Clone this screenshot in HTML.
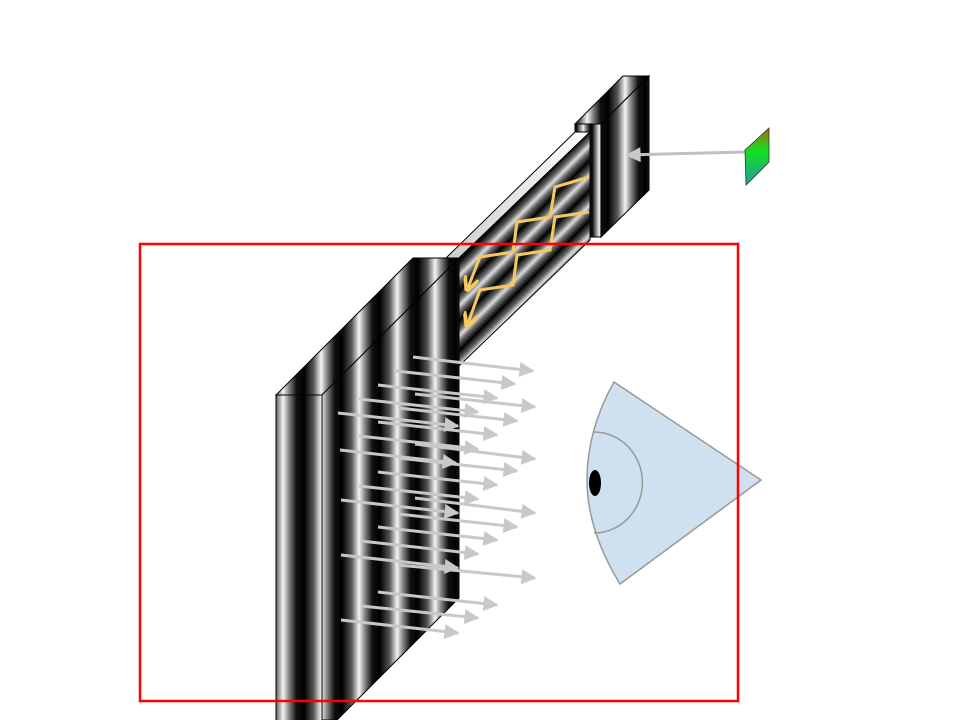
<!DOCTYPE html>
<html><head><meta charset="utf-8"><style>html,body{margin:0;padding:0;background:#fff}svg{display:block}</style></head>
<body>
<svg width="960" height="720" viewBox="0 0 960 720" xmlns="http://www.w3.org/2000/svg">
<defs>
<linearGradient id="vs" gradientUnits="userSpaceOnUse" x1="0" y1="0" x2="38" y2="0" spreadMethod="repeat">
<stop offset="0" stop-color="#000"/><stop offset="0.25" stop-color="#555"/><stop offset="0.45" stop-color="#f4f4f4"/><stop offset="0.6" stop-color="#888"/><stop offset="0.8" stop-color="#111"/><stop offset="1" stop-color="#000"/>
</linearGradient>
<linearGradient id="vs2" gradientUnits="userSpaceOnUse" x1="0" y1="0" x2="16" y2="0" spreadMethod="repeat">
<stop offset="0" stop-color="#000"/><stop offset="0.45" stop-color="#eee"/><stop offset="0.7" stop-color="#555"/><stop offset="1" stop-color="#000"/>
</linearGradient>
<linearGradient id="ds" gradientUnits="userSpaceOnUse" x1="0" y1="0" x2="15" y2="15" spreadMethod="repeat">
<stop offset="0" stop-color="#000"/><stop offset="0.3" stop-color="#666"/><stop offset="0.5" stop-color="#ddd"/><stop offset="0.7" stop-color="#666"/><stop offset="1" stop-color="#000"/>
</linearGradient>
<linearGradient id="gr" x1="0" y1="0" x2="0" y2="1">
<stop offset="0" stop-color="#a86a10"/><stop offset="0.4" stop-color="#10e020"/><stop offset="1" stop-color="#20a0a0"/>
</linearGradient>
<linearGradient id="lt" x1="0" y1="0" x2="1" y2="0"><stop offset="0" stop-color="#ccc"/><stop offset="1" stop-color="#fff"/></linearGradient>
<marker id="ah" viewBox="0 0 10 10" refX="9" refY="5" markerWidth="7" markerHeight="5" markerUnits="strokeWidth" orient="auto"><path d="M0,0L10,5L0,10z" fill="#c8c8c8"/></marker>
<marker id="ay" viewBox="0 0 10 10" refX="9" refY="5" markerWidth="5" markerHeight="5" markerUnits="strokeWidth" orient="auto"><path d="M0,0L10,5L0,10" fill="none" stroke="#f5c860" stroke-width="2.5"/></marker>
</defs>

<rect x="575" y="124" width="15" height="113" fill="url(#vs2)" stroke="#000"/>
<polygon points="575,124 623,76 649,76 601,124" fill="url(#vs)" stroke="#000"/>
<rect x="590" y="124" width="11" height="113" fill="url(#vs2)" stroke="#000"/>
<polygon points="601,124 649,76 649,190 601,237" fill="url(#vs)" stroke="#000"/>

<polygon points="446,258 575,132 590,132 459,258" fill="url(#lt)" stroke="#000"/>
<polygon points="459,258 590,132 590,240 459,366" fill="url(#ds)" stroke="#000"/>

<polyline points="589,177 555,187 550,217 517,222 513,252 480,257 467,290" fill="none" stroke="#f5c860" stroke-width="3" marker-end="url(#ay)"/>
<polyline points="589,212 555,217 550,250 517,255 513,285 480,290 467,326" fill="none" stroke="#f5c860" stroke-width="3" marker-end="url(#ay)"/>

<polygon points="276,395 322,395 459,258 413,258" fill="url(#vs)" stroke="#000"/>
<rect x="276" y="395" width="46" height="330" fill="url(#vs)" stroke="#000"/>
<polygon points="322,395 459,258 459,598 337,720 322,720" fill="url(#vs)" stroke="#000"/>

<g stroke="#c8c8c8" stroke-width="3" fill="none" marker-end="url(#ah)">
<line x1="413" y1="357" x2="533" y2="371"/>
<line x1="396" y1="371" x2="515" y2="384"/>
<line x1="378" y1="385" x2="497" y2="398"/>
<line x1="415" y1="394" x2="535" y2="407"/>
<line x1="359" y1="399" x2="478" y2="412"/>
<line x1="338" y1="413" x2="458" y2="426"/>
<line x1="398" y1="408" x2="517" y2="421"/>
<line x1="378" y1="422" x2="497" y2="435"/>
<line x1="359" y1="436" x2="478" y2="449"/>
<line x1="340" y1="450" x2="456" y2="463"/>
<line x1="415" y1="444" x2="535" y2="459"/>
<line x1="398" y1="458" x2="517" y2="471"/>
<line x1="378" y1="472" x2="497" y2="485"/>
<line x1="359" y1="486" x2="478" y2="499"/>
<line x1="341" y1="500" x2="458" y2="513"/>
<line x1="415" y1="498" x2="535" y2="513"/>
<line x1="398" y1="514" x2="517" y2="527"/>
<line x1="378" y1="527" x2="497" y2="540"/>
<line x1="361" y1="541" x2="478" y2="554"/>
<line x1="341" y1="555" x2="458" y2="568"/>
<line x1="398" y1="565" x2="535" y2="578"/>
<line x1="378" y1="592" x2="497" y2="605"/>
<line x1="361" y1="606" x2="478" y2="618"/>
<line x1="341" y1="620" x2="458" y2="633"/>
</g>

<line x1="745" y1="152" x2="627" y2="155" stroke="#c0c0c0" stroke-width="3" marker-end="url(#ah)"/>
<polygon points="745,150 769,128 769,162 746,185" fill="url(#gr)" stroke="#333" stroke-width="0.8"/>

<path d="M761,480 L614,382 Q587,430 587,480 Q587,530 620,584 Z" fill="#cfe0f0" stroke="#999" stroke-width="1.5"/>
<path d="M594,432 A48,50 0 0 1 594,533" fill="none" stroke="#999" stroke-width="1.5"/>
<ellipse cx="595" cy="483" rx="6" ry="13" fill="#000"/>

<rect x="140" y="244" width="598" height="457" fill="none" stroke="#f00" stroke-width="2.5"/>
</svg>
</body></html>
